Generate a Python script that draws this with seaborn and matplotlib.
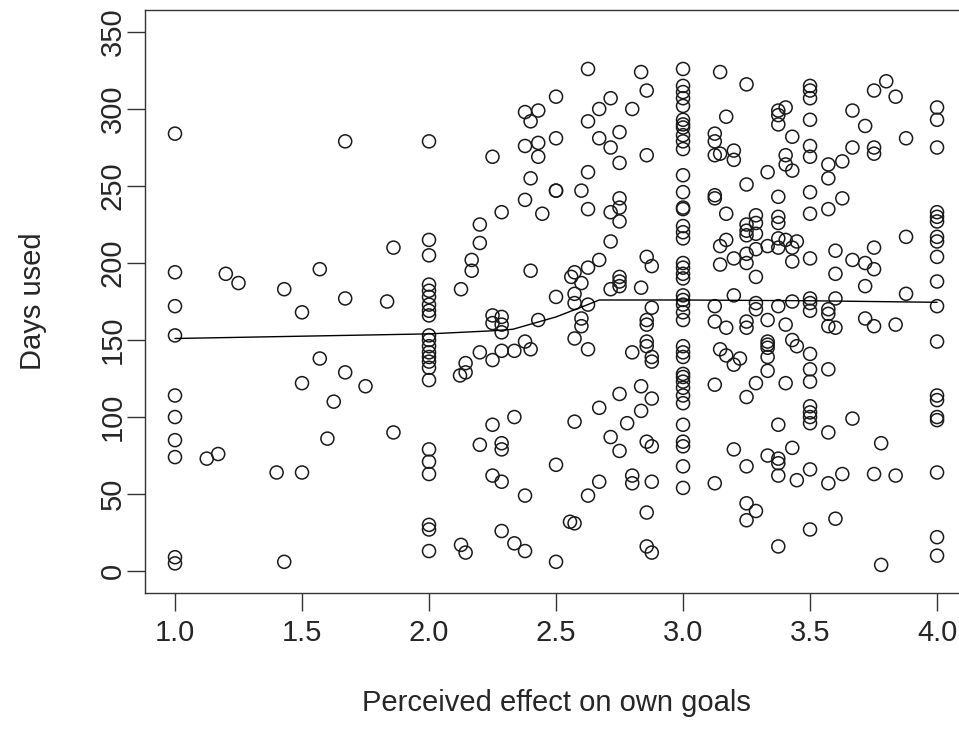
import numpy as np
import pandas as pd
import matplotlib
matplotlib.use("Agg")
import matplotlib.pyplot as plt
import seaborn as sns

# Perceived effect score (x) and days used (y), grouped by score value
effect_values = [
    1.0, 1.0, 1.0, 1.0, 1.0, 1.0, 1.0, 1.0, 1.0, 1.0,
    1.125, 1.17, 1.2, 1.25, 1.4, 1.43, 1.43, 1.5, 1.5, 1.5,
    1.57, 1.57, 1.6, 1.625, 1.67, 1.67, 1.67, 1.75, 1.835, 1.86, 1.86,
]
days_values = [
    284, 194, 172, 153, 114, 100, 85, 74, 9, 5,
    73, 76, 193, 187, 64, 183, 6, 168, 122, 64,
    196, 138, 86, 110, 279, 177, 129, 120, 175, 210, 90,
]

# score -> list of days used
groups = {
    2.0: [279, 215, 205, 186, 182, 178, 173, 169, 166, 153, 150, 146, 142, 139,
          136, 132, 124, 79, 71, 63, 30, 27, 13],
    2.122: [127],
    2.126: [183, 17],
    2.144: [135, 129, 12],
    2.168: [202, 195],
    2.20: [225, 213, 142, 82],
    2.25: [269, 166, 161, 137, 95, 62],
    2.286: [233, 165, 160, 155, 143, 83, 79, 58, 26],
    2.336: [143, 100, 18],
    2.378: [298, 276, 241, 149, 49, 13],
    2.40: [292, 255, 195, 144],
    2.43: [299, 278, 269, 163],
    2.446: [232],
    2.5: [308, 281, 247, 247, 178, 69, 6],
    2.555: [32],
    2.56: [191],
    2.573: [194, 180, 174, 151, 97, 31],
    2.60: [247, 187, 164, 159],
    2.626: [326, 292, 259, 235, 197, 173, 144, 49],
    2.67: [300, 281, 202, 106, 58],
    2.715: [307, 275, 233, 214, 183, 87],
    2.75: [285, 265, 242, 236, 227, 191, 188, 185, 115, 78],
    2.78: [96],
    2.80: [300, 142, 62, 57],
    2.835: [324, 184, 120, 104],
    2.857: [312, 270, 204, 163, 160, 149, 146, 84, 38, 16],
    2.877: [198, 171, 139, 136, 112, 81, 58, 12],
    3.0: [326, 315, 311, 307, 302, 293, 290, 288, 283, 279, 274, 257, 246, 236,
          235, 224, 220, 216, 200, 197, 193, 190, 179, 176, 173, 168, 163, 146,
          142, 139, 128, 126, 123, 119, 114, 109, 95, 84, 81, 68, 54],
    3.125: [284, 279, 270, 244, 242, 172, 162, 121, 57],
    3.146: [324, 271, 211, 199, 144],
    3.17: [295, 232, 215, 158, 140],
    3.20: [273, 267, 203, 179, 134, 79],
    3.224: [138],
    3.25: [316, 251, 225, 221, 218, 206, 200, 162, 158, 113, 68, 44, 33],
    3.287: [231, 226, 219, 209, 191, 174, 170, 122, 39],
    3.333: [259, 211, 163, 149, 147, 145, 139, 130, 75],
    3.375: [299, 296, 290, 243, 230, 226, 216, 210, 172, 95, 73, 70, 62, 16],
    3.404: [301, 270, 264, 215, 160, 122],
    3.43: [282, 260, 210, 201, 175, 150, 80],
    3.448: [214, 146, 59],
    3.5: [315, 312, 307, 293, 276, 269, 246, 232, 203, 177, 174, 169, 141, 131,
          123, 107, 103, 100, 96, 66, 27],
    3.572: [264, 255, 235, 170, 167, 159, 131, 90, 57],
    3.60: [208, 193, 177, 158, 34],
    3.627: [266, 242, 63],
    3.667: [299, 275, 202, 99],
    3.717: [289, 200, 185, 164],
    3.752: [312, 275, 271, 210, 196, 159, 63],
    3.78: [83, 4],
    3.80: [318],
    3.837: [308, 160, 62],
    3.878: [281, 217, 180],
    4.0: [301, 293, 275, 233, 230, 227, 217, 214, 204, 188, 172, 149, 114, 111,
          100, 98, 64, 22, 10],
}

# Smoothed trend (lowess) vertices
smooth_x = [1.0, 2.0, 2.25, 2.33, 2.5, 2.625, 2.67, 3.0, 3.5, 4.0]
smooth_y = [151, 154, 156, 157, 165, 173, 176, 176, 175.5, 174.5]

x_ticks = [1.0, 1.5, 2.0, 2.5, 3.0, 3.5, 4.0]
x_tick_labels = ["1.0", "1.5", "2.0", "2.5", "3.0", "3.5", "4.0"]
y_ticks = [0, 50, 100, 150, 200, 250, 300, 350]
y_tick_labels = [str(v) for v in y_ticks]

xs = list(effect_values)
ys = list(days_values)
for k, vals in groups.items():
    xs.extend([k] * len(vals))
    ys.extend(vals)
df = pd.DataFrame({"effect": xs, "days": ys})

sns.set_style("white")
plt.rcParams["font.family"] = ["Liberation Sans", "DejaVu Sans"]

fig = plt.figure(figsize=(9.59, 7.35), dpi=100)
ax = fig.add_axes([0.1507, 0.1937, 0.8582, 0.7921])

sns.scatterplot(data=df, x="effect", y="days", ax=ax, marker="o",
                facecolor="none", edgecolor="#1a1a1a", s=88, linewidth=1.1)
ax.plot(smooth_x, smooth_y, color="black", lw=1.0)

ax.set_xlim(0.88, 4.12)
ax.set_ylim(-14, 364)
ax.set_xticks(x_ticks)
ax.set_xticklabels(x_tick_labels)
ax.set_yticks(y_ticks)
ax.set_yticklabels(y_tick_labels, rotation=90, va="center")

ax.tick_params(axis="both", direction="out", length=13, width=1.0,
               color="#333333", labelsize=21, bottom=True, left=True)
ax.tick_params(axis="x", pad=6)
ax.tick_params(axis="y", pad=0)

for sp in ax.spines.values():
    sp.set_color("#333333")
    sp.set_linewidth(1.0)

ax.set_xlabel("Perceived effect on own goals", fontsize=21, labelpad=30)
ax.set_ylabel("Days used", fontsize=21, labelpad=37)

fig.savefig("out.png", dpi=100)
